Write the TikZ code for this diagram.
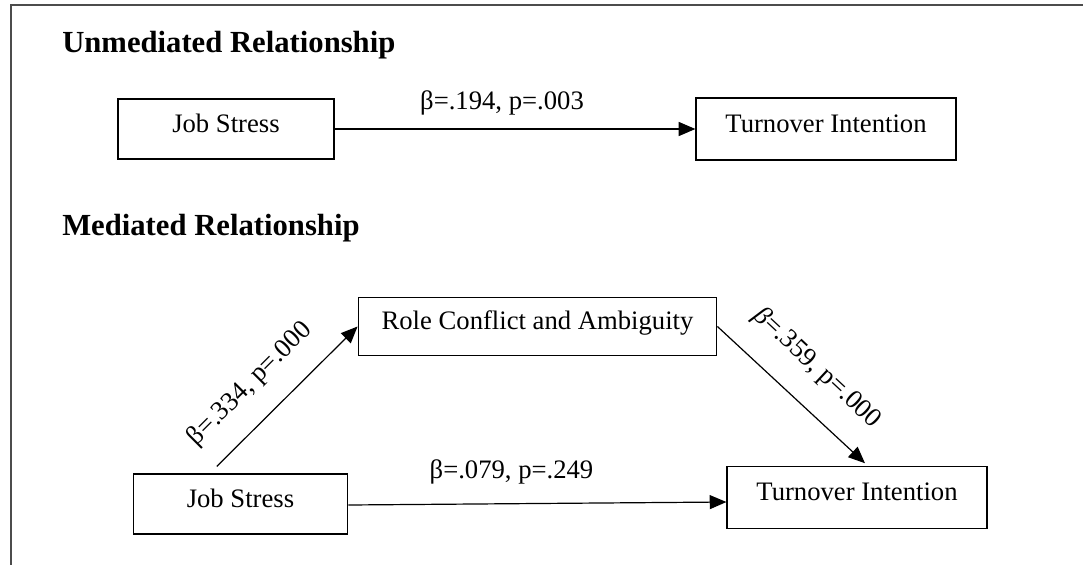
\documentclass[tikz,border=0pt]{standalone}
\usepackage{fontspec}
\setmainfont{Liberation Serif}
\usetikzlibrary{arrows.meta,calc}

\tikzset{
  varbox/.style n args={2}{draw, line width=0.9pt, inner sep=0pt,
    minimum width=#1, minimum height=#2,
    text height=14pt, text depth=8.8pt,
    font=\fontsize{20}{24}\selectfont},
  path/.style={line width=0.9pt, -{Triangle[length=12.5pt,width=10.5pt]}},
  coef/.style={font=\fontsize{20}{24}\selectfont, inner sep=0pt},
  heading/.style={font=\bfseries\fontsize{23}{28}\selectfont, inner sep=0pt, anchor=base west},
  frameline/.style={line width=1.1pt, draw=black!70}
}

\begin{document}
\begin{tikzpicture}[x=0.75pt, y=-0.75pt]
  \useasboundingbox (0,0) rectangle (1083,565);

  % open frame: top and left edges only
  \draw[frameline] (1083,5) -- (11,5) -- (11,565);

  % --- unmediated model ---
  \node[heading] (h1) at (62,52) {Unmediated Relationship};
  \node[varbox={162pt}{45pt}] (js1) at (226,129) {Job Stress};
  \node[varbox={195pt}{46.5pt}] (ti1) at (826,129) {Turnover Intention};
  \draw[path] (js1) -- (ti1);
  \node[coef, anchor=base] (c1) at (502,109) {β=.194, p=.003};

  % --- mediated model ---
  \node[heading] (h2) at (62,235) {Mediated Relationship};
  \node[varbox={269pt}{44pt}] (rc) at (537.5,326.5) {Role Conflict and Ambiguity};
  \node[varbox={161pt}{45pt}] (js2) at (240.5,504) {Job Stress};
  \node[varbox={195pt}{46pt}] (ti2) at (857,497.5) {Turnover Intention};

  \coordinate (a1) at ($(js2.north west)!0.39!(js2.north east)+(0,-7)$);
  \coordinate (a2) at ($(ti2.north)+(8,-3)$);
  \draw[path] (a1) -- (rc.west);
  \draw[path] (rc.east) -- (a2);
  \draw[path] ($(js2.east)+(0,1)$) -- ($(ti2.west)+(0,4.5)$);

  \node[coef, rotate=45] (c2) at (250,384) {β=.334, p=.000};
  \node[coef, rotate=-43] (c3) at (817,368) {\textit{β}=.359, p=.000};
  \node[coef, anchor=base] (c4) at (511.5,478) {β=.079, p=.249};
\end{tikzpicture}
\end{document}
